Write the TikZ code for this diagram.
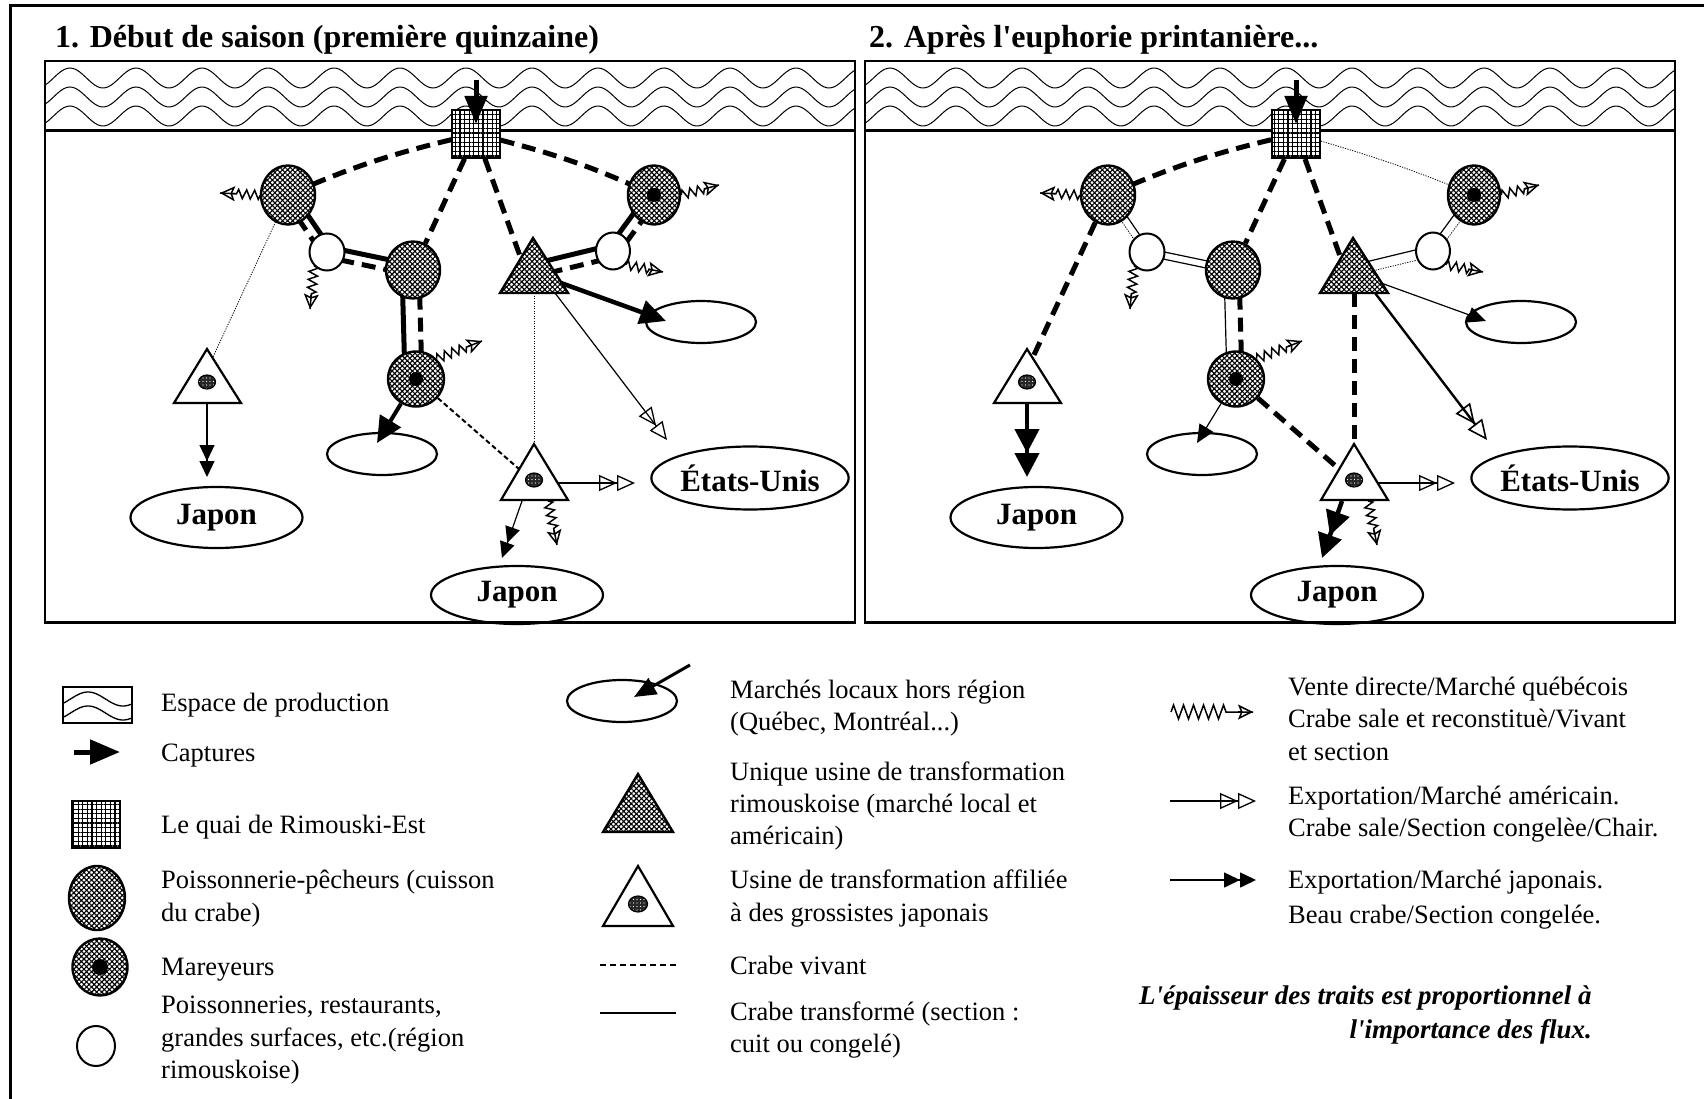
\documentclass[tikz,border=0pt]{standalone}
\usepackage{fontspec}
\setmainfont{Liberation Serif}[Ligatures=TeXOff]
\usetikzlibrary{arrows.meta,patterns.meta,decorations.pathmorphing,backgrounds,calc,shapes.geometric}

\newcommand\zzarrow[3][]{%
  \draw[zzl,#1] (#2) -- (#3);
  \draw[zzh] ($(#3)!15pt!(#2)$) -- (#3);}

\newcommand\panelnodes{%
  \draw[boxl] (45,61) rectangle (855,622.5);
  \draw[boxl] (45,130.5) -- (855,130.5);
  \foreach \wy in {78,97,116}{\draw[wave] plot[domain=45:855,samples=260] (\x,{\wy-10*cos(5.4545*(\x-70))});}
  \node[quai] (Q) at (476,134) {};
  \node[pech] (A) at (288,195) {};
  \node[pech,minimum width=52pt] (MR) at (654,195) {};
  \fill (MR) circle[radius=7];
  \node[blanc] (B1) at (327,252) {};
  \node[pech,minimum height=57pt] (C) at (413,270) {};
  \node[blanc,minimum width=34pt] (B2) at (613,251) {};
  \draw[trig] (533,238) -- (568,293) -- (500,293) -- cycle;
  \coordinate (Tq) at (520,256);
  \coordinate (Tb) at (551,266);
  \coordinate (Tr) at (561,283);
  \coordinate (Tus) at (555,293);
  \coordinate (Tbot) at (534,293);
  \node[marche] (ER) at (701,322) {};
  \draw[tria] (207,349) -- (241,403) -- (174,403) -- cycle;
  \node[dotn] (TLd) at (207,382) {};
  \coordinate (TLa) at (213,357);
  \coordinate (TLb) at (207,403);
  \node[pays] (JL) at (216.5,517.5) {Japon};
  \node[pech,minimum width=56pt,minimum height=55pt] (ML) at (416,379) {};
  \fill (ML) circle[radius=7];
  \node[marche] (EM) at (382,454) {};
  \draw[tria] (534,444) -- (568,500) -- (501,500) -- cycle;
  \node[dotn] (TMd) at (534,480) {};
  \coordinate (TMa) at (534,444);
  \coordinate (TMl) at (519,469);
  \coordinate (TMr) at (558,483);
  \coordinate (TMb) at (522,501);
  \coordinate (TMz) at (548,501);
  \node[pays,minimum width=174pt,minimum height=63pt] (US) at (750,478) {États-Unis};
  \node[pays,minimum height=58pt] (JB) at (517,595) {Japon};
  \coordinate (cap) at (476,80);
  \coordinate (capE) at (476,124);
  \draw[capture] (cap) -- (capE);
  \coordinate (ERa) at (666,321);
  \coordinate (USa) at (667,440);
  \coordinate (USb) at (635,483);
  \coordinate (JLa) at (207,477);
  \coordinate (JBa) at (502,558);
  \coordinate (EMa) at (377,443);
  \coordinate (zA) at (220,193);
  \coordinate (zB1) at (310,309);
  \coordinate (zMR) at (719,185);
  \coordinate (zB2) at (663,272);
  \coordinate (zML) at (482,341);
  \coordinate (zTM) at (557,545);
  \zzarrow{A.west}{zA}
  \zzarrow{B1.south west}{zB1}
  \zzarrow{MR.east}{zMR}
  \zzarrow{B2.south east}{zB2}
  \zzarrow{ML.north east}{zML}
  \zzarrow{TMz}{zTM}
}

\begin{document}
\begin{tikzpicture}[x=1pt,y=-1pt,
  boxl/.style={line width=2.4pt},
  wave/.style={line width=1pt},
  quai/.style={rectangle, draw, line width=2pt, minimum width=48pt, minimum height=48pt, inner sep=0pt,
     preaction={fill=white}, pattern={Hatch[angle=0,distance=4.6pt,line width=1.3pt]}},
  pech/.style={ellipse, draw, line width=2.4pt, minimum width=54pt, minimum height=59pt, inner sep=0pt,
     preaction={fill=white}, pattern={Hatch[angle=45,distance=3.6pt,line width=1.1pt]}},
  blanc/.style={ellipse, draw, fill=white, line width=2pt, minimum width=35pt, minimum height=37pt, inner sep=0pt},
  marche/.style={ellipse, draw, line width=2.2pt, minimum width=110pt, minimum height=42pt, inner sep=0pt},
  pays/.style={ellipse, draw, line width=2.2pt, minimum width=172pt, minimum height=61pt, inner sep=0pt,
     font=\bfseries\fontsize{31}{31}\selectfont},
  trig/.style={draw, line width=2.4pt, preaction={fill=white}, pattern={Hatch[angle=45,distance=3.6pt,line width=1.1pt]}},
  tria/.style={draw, line width=2.2pt, fill=white},
  dotn/.style={ellipse, draw, line width=1.2pt, minimum width=17pt, minimum height=14pt, inner sep=0pt,
     preaction={fill=black!85}, pattern={Dots[distance=3.5pt,radius=0.7pt]}, pattern color=white},
  TD/.style={line width=5pt, dash pattern=on 14pt off 8pt},
  TS/.style={line width=5pt},
  ts/.style={line width=1.2pt},
  td/.style={line width=0.8pt, dash pattern=on 1.2pt off 1.3pt},
  md/.style={line width=2pt, dash pattern=on 5pt off 3pt},
  pr/.style={shorten <=-4pt, shorten >=-4pt},
  jp/.style={-{Triangle[length=16pt,width=15pt] Triangle[length=16pt,width=15pt]}},
  JP/.style={-{Triangle[length=24pt,width=24pt] Triangle[length=24pt,width=24pt]}},
  us/.style={-{Triangle[open,length=18pt,width=16pt,line width=1.3pt] Triangle[open,length=18pt,width=16pt,line width=1.3pt]}},
  US/.style={-{Triangle[open,length=20pt,width=18pt,line width=1.6pt] Triangle[open,length=20pt,width=18pt,line width=1.6pt]}},
  loc/.style={-{Triangle[length=26pt,width=24pt]}},
  locs/.style={-{Triangle[length=18pt,width=16pt]}},
  capture/.style={line width=5pt, -{Triangle[length=28pt,width=22pt]}},
  zzl/.style={line width=1.5pt, decorate, decoration={zigzag,segment length=8pt,amplitude=4.5pt,post length=13pt}},
  zzh/.style={line width=1.5pt, -{Stealth[open,length=15pt,width=15pt,inset=3pt,line width=1.5pt]}},
  lg/.style={inner sep=0pt, anchor=base west, font=\fontsize{26.5}{32}\selectfont},
  ttl/.style={inner sep=0pt, anchor=base west, font=\bfseries\fontsize{32}{36}\selectfont},
  note/.style={inner sep=0pt, font=\bfseries\itshape\fontsize{27}{32}\selectfont}
]
\useasboundingbox (0,0) rectangle (1704,1099);
\draw[line width=3pt] (10,1099) -- (10,6) -- (1704,6);

\node[ttl] (t1) at (55,48) {1. Début de saison (première quinzaine)};
\node[ttl] (t2) at (869,48) {2. Après l'euphorie printanière...};

% ---------------- panel 1
\begin{scope}[name prefix=p1-]
\panelnodes
\begin{pgfonlayer}{background}
 \draw[TD] (Q) to[bend right=5] (A);
 \draw[TD] (Q) to[bend left=5] (MR);
 \draw[TD] (Q) -- (C);
 \draw[TD] (Q) -- (Tq);
 \draw[TS,pr,transform canvas={xshift=4.1pt,yshift=2.8pt}] (A) -- (B1);
 \draw[TD,pr,transform canvas={xshift=-4.1pt,yshift=-2.8pt}] (A) -- (B1);
 \draw[TS,pr,transform canvas={xshift=1pt,yshift=5pt}] (B1) -- (C);
 \draw[TD,pr,transform canvas={xshift=-1pt,yshift=-5pt}] (B1) -- (C);
 \draw[TS,pr,transform canvas={xshift=-11pt}] (C) -- (ML);
 \draw[TD,pr,transform canvas={xshift=6pt}] (C) -- (ML);
 \draw[TS,pr,transform canvas={xshift=-1.5pt,yshift=6pt}] (Tb) -- (B2);
 \draw[TD,pr,transform canvas={xshift=1.5pt,yshift=-6pt}] (Tb) -- (B2);
 \draw[TS,pr,transform canvas={xshift=-4.5pt,yshift=3.3pt}] (B2) -- (MR);
 \draw[TD,pr,transform canvas={xshift=4.5pt,yshift=-3.3pt}] (B2) -- (MR);
 \draw[line width=4.5pt,loc] (Tr) -- (ERa);
 \draw[ts,us] (Tus) -- (USa);
 \draw[td] (Tbot) -- (TMa);
 \draw[td] (A) -- (TLa);
 \draw[ts,jp] (TLb) -- (JLa);
 \draw[line width=4pt,loc] (ML) -- (EMa);
 \draw[md] (ML) -- (TMl);
 \draw[ts,us] (TMr) -- (USb);
 \draw[ts,jp] (TMb) -- (JBa);
\end{pgfonlayer}
\end{scope}

% ---------------- panel 2
\begin{scope}[xshift=820pt,name prefix=p2-]
\panelnodes
\begin{pgfonlayer}{background}
 \draw[TD] (Q) to[bend right=5] (A);
 \draw[td] (Q) to[bend left=3] (MR);
 \draw[TD] (Q) -- (C);
 \draw[TD] (Q) -- (Tq);
 \draw[ts,pr,transform canvas={xshift=3pt,yshift=2pt}] (A) -- (B1);
 \draw[td,pr,transform canvas={xshift=-3pt,yshift=-2pt}] (A) -- (B1);
 \draw[ts,pr,transform canvas={xshift=0.7pt,yshift=3.5pt}] (B1) -- (C);
 \draw[ts,pr,transform canvas={xshift=-0.7pt,yshift=-3.5pt}] (B1) -- (C);
 \draw[ts,pr,transform canvas={xshift=-9pt}] (C) -- (ML);
 \draw[TD,pr,transform canvas={xshift=6pt}] (C) -- (ML);
 \draw[ts,pr,transform canvas={xshift=-1.2pt,yshift=5pt}] (Tb) -- (B2);
 \draw[td,pr,transform canvas={xshift=1.2pt,yshift=-5pt}] (Tb) -- (B2);
 \draw[ts,pr,transform canvas={xshift=-3.5pt,yshift=2.5pt}] (B2) -- (MR);
 \draw[td,pr,transform canvas={xshift=3.5pt,yshift=-2.5pt}] (B2) -- (MR);
 \draw[ts,locs] (Tr) -- (ERa);
 \draw[line width=2.4pt,US] (Tus) -- (USa);
 \draw[TD] (Tbot) -- (TMa);
 \draw[TD] (A) -- (TLa);
 \draw[line width=4.5pt,JP] (TLb) -- (JLa);
 \draw[ts,locs] (ML) -- (EMa);
 \draw[TD] (ML) -- (TMl);
 \draw[ts,us] (TMr) -- (USb);
 \draw[line width=4.5pt,JP] (TMb) -- (JBa);
\end{pgfonlayer}
\end{scope}

% ---------------- legend column 1
\node[draw, line width=2.4pt, minimum width=69pt, minimum height=36pt, inner sep=0pt] (lgEsp) at (97.5,705) {};
\begin{scope}
 \clip (63,687) rectangle (132,723);
 \foreach \wy in {699,713}{\draw[wave,line width=1.3pt] plot[domain=63:132,samples=60] (\x,{\wy-7*cos(5.143*(\x-88))});}
\end{scope}
\coordinate (lgC1) at (74,752);
\coordinate (lgC2) at (120,752);
\draw[line width=5pt,-{Triangle[length=30pt,width=24pt]}] (lgC1) -- (lgC2);
\node[quai, minimum height=47pt] (lgQ) at (96,824.5) {};
\node[pech, minimum width=56pt, minimum height=64pt] (lgP) at (97,898) {};
\node[pech, minimum width=55pt, minimum height=57pt] (lgM) at (100,967) {};
\fill (lgM) circle[radius=8];
\node[blanc, minimum width=38pt, minimum height=40pt] (lgB) at (96,1046) {};

\node[lg] (x1) at (161,711) {Espace de production};
\node[lg] (x2) at (161,761.5) {Captures};
\node[lg] (x3) at (161,833) {Le quai de Rimouski-Est};
\node[lg] (x4) at (161,888) {Poissonnerie-pêcheurs (cuisson};
\node[lg] (x5) at (161,921) {du crabe)};
\node[lg] (x6) at (161,975) {Mareyeurs};
\node[lg] (x7) at (161,1013) {Poissonneries, restaurants,};
\node[lg] (x8) at (161,1046) {grandes surfaces, etc.(région};
\node[lg] (x9) at (161,1078) {rimouskoise)};

% ---------------- legend column 2
\node[marche] (lgE) at (622,701) {};
\coordinate (lgEa) at (690,665);
\coordinate (lgEb) at (634,697);
\draw[line width=3pt,-{Triangle[length=22pt,width=18pt]}] (lgEa) -- (lgEb);
\draw[trig] (638,774) -- (673,832) -- (603,832) -- cycle;
\coordinate (lgT) at (638,812);
\draw[tria] (638,866) -- (673,926) -- (603,926) -- cycle;
\node[dotn, minimum width=19pt, minimum height=16pt] (lgTd) at (638,904) {};
\coordinate (lgD1) at (600,965);
\coordinate (lgD2) at (676,965);
\draw[line width=2.5pt, dash pattern=on 6pt off 4pt] (lgD1) -- (lgD2);
\coordinate (lgS1) at (600,1013);
\coordinate (lgS2) at (676,1013);
\draw[line width=2.5pt] (lgS1) -- (lgS2);

\node[lg] (y1) at (730,698) {Marchés locaux hors région};
\node[lg] (y2) at (730,730) {(Québec, Montréal...)};
\node[lg] (y3) at (730,780) {Unique usine de transformation};
\node[lg] (y4) at (730,812) {rimouskoise (marché local et};
\node[lg] (y5) at (730,844) {américain)};
\node[lg] (y6) at (730,888) {Usine de transformation affiliée};
\node[lg] (y7) at (730,921) {à des grossistes japonais};
\node[lg] (y8) at (730,974) {Crabe vivant};
\node[lg] (y9) at (730,1020) {Crabe transformé (section :};
\node[lg] (y10) at (730,1052) {cuit ou congelé)};

% ---------------- legend column 3
\coordinate (lgZ1) at (1171,712);
\coordinate (lgZ2) at (1253,712);
\zzarrow[decoration={zigzag,segment length=10pt,amplitude=7pt,post length=24pt}]{lgZ1}{lgZ2}
\coordinate (lgU1) at (1170,801);
\coordinate (lgU2) at (1256,801);
\draw[line width=1.5pt, us] (lgU1) -- (lgU2);
\coordinate (lgJ1) at (1170,880);
\coordinate (lgJ2) at (1256,880);
\draw[line width=1.5pt, jp] (lgJ1) -- (lgJ2);

\node[lg] (z1) at (1288,695) {Vente directe/Marché québécois};
\node[lg] (z2) at (1288,727) {Crabe sale et reconstituè/Vivant};
\node[lg] (z3) at (1288,760) {et section};
\node[lg] (z4) at (1288,804.5) {Exportation/Marché américain.};
\node[lg] (z5) at (1288,836) {Crabe sale/Section congelèe/Chair.};
\node[lg] (z6) at (1288,888) {Exportation/Marché japonais.};
\node[lg] (z7) at (1288,923) {Beau crabe/Section congelée.};

\node[note, anchor=base west] (n1) at (1139,1004.5) {L'épaisseur des traits est proportionnel à};
\node[note, anchor=base east] (n2) at (1592,1038) {l'importance des flux.};
\end{tikzpicture}
\end{document}
